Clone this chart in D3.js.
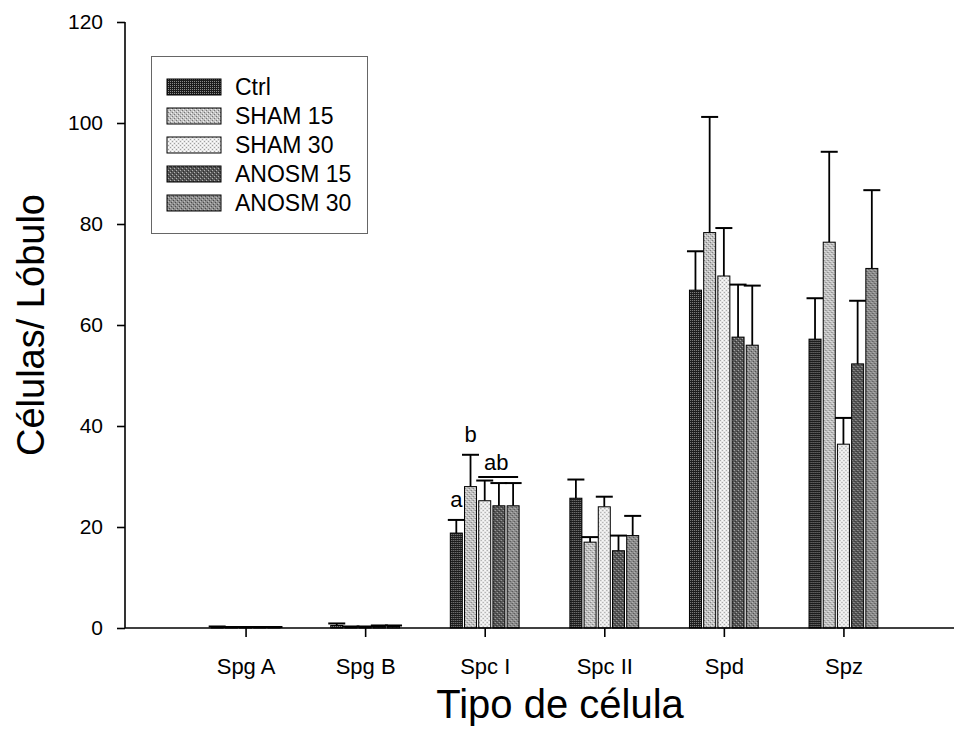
<!DOCTYPE html>
<html>
<head>
<meta charset="utf-8">
<script src="https://cdn.jsdelivr.net/npm/d3@7"></script>
<style>
  body { margin: 0; background: #fff; }
  svg { display: block; font-family: "Liberation Sans", Arial, sans-serif; }
</style>
</head>
<body>
<div id="chart"></div>
<script>
// categories and series
const categories = ["Spg A", "Spg B", "Spc I", "Spc II", "Spd", "Spz"];
const seriesNames = ["Ctrl", "SHAM 15", "SHAM 30", "ANOSM 15", "ANOSM 30"];

// means per series (same order as categories)
const ctrlMean    = [0.2, 0.5, 18.8, 25.7, 66.9, 57.2];
const sham15Mean  = [0.1, 0.2, 28.0, 17.0, 78.3, 76.4];
const sham30Mean  = [0.1, 0.2, 25.2, 24.0, 69.7, 36.4];
const anosm15Mean = [0.1, 0.3, 24.2, 15.3, 57.6, 52.3];
const anosm30Mean = [0.1, 0.3, 24.2, 18.3, 56.0, 71.2];

// upper error (SEM)
const ctrlErr    = [0.1, 0.4, 2.6, 3.7, 7.7, 8.1];
const sham15Err  = [0.1, 0.1, 6.3, 1.0, 22.9, 17.9];
const sham30Err  = [0.1, 0.1, 4.0, 2.0, 9.5, 5.2];
const anosm15Err = [0.1, 0.2, 4.5, 3.0, 10.4, 12.5];
const anosm30Err = [0.1, 0.2, 4.5, 3.9, 11.8, 15.5];

const yTicks = [0, 20, 40, 60, 80, 100, 120];

// significance letters on Spc I
const letters = [
    { category: "Spc I", series: "Ctrl", text: "a" },
    { category: "Spc I", series: "SHAM 15", text: "b" },
];

const means = [ctrlMean, sham15Mean, sham30Mean, anosm15Mean, anosm30Mean];
const errs = [ctrlErr, sham15Err, sham30Err, anosm15Err, anosm30Err];

const width = 954;
const height = 736;
const marginLeft = 125;
const marginTop = 22;
const axisY = 628;

const svg = d3.select("#chart")
    .append("svg")
    .attr("width", width)
    .attr("height", height);

// textured fills, like the old SigmaPlot patterns
const defs = svg.append("defs");
const patternSpecs = [
    { bg: "#1c1c1c", dots: [[0, 0, "#8a8a8a"], [2, 0, "#8a8a8a"], [0, 2, "#8a8a8a"], [2, 2, "#8a8a8a"]] },
    { bg: "#c2c2c2", dots: [[0, 0, "#767676"], [2, 2, "#767676"], [1, 3, "#f0f0f0"], [3, 1, "#f0f0f0"]] },
    { bg: "#e8e8e8", dots: [[0, 0, "#a0a0a0"], [2, 0, "#ffffff"], [0, 2, "#ffffff"], [2, 2, "#a0a0a0"]] },
    { bg: "#555555", dots: [[0, 0, "#b0b0b0"], [2, 2, "#b0b0b0"], [1, 3, "#2e2e2e"], [3, 1, "#2e2e2e"]] },
    { bg: "#8c8c8c", dots: [[1, 1, "#4a4a4a"], [3, 3, "#4a4a4a"], [0, 2, "#bcbcbc"], [2, 0, "#bcbcbc"]] },
];
patternSpecs.forEach((p, i) => {
    const pat = defs.append("pattern")
        .attr("id", `p${i}`)
        .attr("patternUnits", "userSpaceOnUse")
        .attr("width", 4)
        .attr("height", 4);
    pat.append("rect").attr("width", 4).attr("height", 4).attr("fill", p.bg);
    p.dots.forEach(([dx, dy, c]) => {
        pat.append("rect")
            .attr("x", dx).attr("y", dy)
            .attr("width", 1).attr("height", 1)
            .attr("fill", c);
    });
});

// scales
const x = d3.scalePoint()
    .domain(categories)
    .range([marginLeft + 1, 963])
    .padding(1);

const xInner = d3.scaleBand()
    .domain(seriesNames)
    .range([-35.5, 35.5])
    .paddingInner(0.155)
    .paddingOuter(0.0775);

const y = d3.scaleLinear()
    .domain([0, 120])
    .range([axisY, marginTop]);

// bars
const groups = svg.append("g")
    .selectAll("g")
    .data(categories)
    .join("g")
    .attr("transform", (d) => `translate(${x(d)},0)`);

const capW = 17;
seriesNames.forEach((s, si) => {
    const bx = xInner(s);
    const bw = xInner.bandwidth();

    // error bars (upper only)
    groups.append("line")
        .attr("x1", bx + bw / 2)
        .attr("x2", bx + bw / 2)
        .attr("y1", (d, i) => y(means[si][i]))
        .attr("y2", (d, i) => y(means[si][i] + errs[si][i]))
        .attr("stroke", "#000")
        .attr("stroke-width", 1.8);
    groups.append("line")
        .attr("x1", bx + bw / 2 - capW / 2)
        .attr("x2", bx + bw / 2 + capW / 2)
        .attr("y1", (d, i) => y(means[si][i] + errs[si][i]))
        .attr("y2", (d, i) => y(means[si][i] + errs[si][i]))
        .attr("stroke", "#000")
        .attr("stroke-width", 2);

    groups.append("rect")
        .attr("x", bx)
        .attr("width", bw)
        .attr("y", (d, i) => y(means[si][i]))
        .attr("height", (d, i) => y(0) - y(means[si][i]))
        .attr("fill", `url(#p${si})`)
        .attr("stroke", "#000")
        .attr("stroke-width", 1);
});

// y axis
const yAxis = svg.append("g")
    .attr("transform", `translate(${marginLeft},0)`)
    .call(d3.axisLeft(y).tickValues(yTicks).tickSize(8).tickPadding(14));
yAxis.selectAll("path, line").attr("stroke", "#000").attr("stroke-width", 1.6);
yAxis.select(".domain").attr("d", `M0,${y(120)}V${y(0)}`);
yAxis.selectAll("text")
    .attr("fill", "#000")
    .style("font-size", "21px")
    .style("font-family", "'Liberation Sans', Arial, sans-serif");

// x axis
const xAxis = svg.append("g")
    .attr("transform", `translate(0,${axisY})`)
    .call(d3.axisBottom(x).tickSize(9).tickPadding(21));
xAxis.select(".domain").attr("d", `M${marginLeft},0H${width}`);
xAxis.selectAll("path, line").attr("stroke", "#000").attr("stroke-width", 1.6);
xAxis.selectAll("text")
    .attr("fill", "#000")
    .attr("dy", "0.71em")
    .style("font-size", "22px")
    .style("font-family", "'Liberation Sans', Arial, sans-serif");

// significance letters
letters.forEach((l) => {
    const cx = x(l.category) + xInner(l.series) + xInner.bandwidth() / 2;
    const si = seriesNames.indexOf(l.series);
    const ci = categories.indexOf(l.category);
    svg.append("text")
        .attr("x", cx)
        .attr("y", y(means[si][ci] + errs[si][ci]) - 13)
        .attr("text-anchor", "middle")
        .style("font-size", "22px")
        .text(l.text);
});
// "ab" over SHAM 30 .. ANOSM 30 with a bar
{
    const c = "Spc I";
    const x0 = x(c) + xInner("SHAM 30") - 0.5;
    const x1 = x(c) + xInner("ANOSM 30") + xInner.bandwidth() - 1;
    const ly = y(29.9);
    svg.append("line")
        .attr("x1", x0).attr("x2", x1)
        .attr("y1", ly).attr("y2", ly)
        .attr("stroke", "#000").attr("stroke-width", 2);
    svg.append("text")
        .attr("x", (x0 + x1) / 2 - 2)
        .attr("y", ly - 7)
        .attr("text-anchor", "middle")
        .style("font-size", "22px")
        .text("ab");
}

// axis titles
svg.append("text")
    .attr("x", 560)
    .attr("y", 718)
    .attr("text-anchor", "middle")
    .style("font-size", "40px")
    .text("Tipo de célula");

svg.append("text")
    .attr("transform", `translate(44,${325}) rotate(-90)`)
    .attr("text-anchor", "middle")
    .style("font-size", "38px")
    .text("Células/ Lóbulo");

// legend
const legend = svg.append("g");
legend.append("rect")
    .attr("x", 151.5)
    .attr("y", 56.5)
    .attr("width", 216)
    .attr("height", 177)
    .attr("fill", "#fff")
    .attr("stroke", "#666")
    .attr("stroke-width", 1);

const legendRow = d3.scalePoint()
    .domain(seriesNames)
    .range([87, 203]);

const items = legend.selectAll("g.item")
    .data(seriesNames)
    .join("g")
    .attr("class", "item")
    .attr("transform", (d) => `translate(0,${legendRow(d)})`);
items.append("rect")
    .attr("x", 167)
    .attr("y", -8)
    .attr("width", 54)
    .attr("height", 16)
    .attr("fill", (d, i) => `url(#p${i})`)
    .attr("stroke", "#000")
    .attr("stroke-width", 1);
items.append("text")
    .attr("x", 235)
    .attr("y", 0)
    .attr("dy", "0.36em")
    .style("font-size", "23px")
    .text((d) => d);
</script>
</body>
</html>
